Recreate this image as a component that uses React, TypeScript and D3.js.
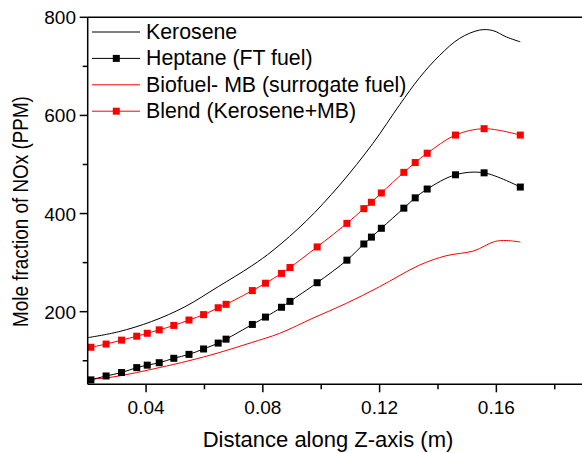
import React from "react";
import * as d3 from "d3";

const keroseneX = [0.02, 0.0305, 0.0419, 0.0533, 0.0647, 0.0761, 0.0835, 0.0949, 0.1063, 0.1177, 0.1269, 0.1337, 0.1405, 0.1474, 0.1543, 0.1588, 0.1634, 0.1682];
const keroseneY = [147, 159, 180, 210, 251, 293, 325, 385, 458, 543, 622, 677, 722, 757, 774, 773, 760, 750];

const markerX = [0.0211, 0.0263, 0.0316, 0.0368, 0.0404, 0.0445, 0.0495, 0.0547, 0.0597, 0.0647, 0.0674, 0.0764, 0.0809, 0.0864, 0.0893, 0.0986, 0.1088, 0.1146, 0.1172, 0.1206, 0.1283, 0.1322, 0.1363, 0.146, 0.1558, 0.1682];
const heptaneY = [61, 69, 76, 86, 91, 96, 105, 113, 124, 136, 144, 174, 189, 209, 221, 259, 305, 338, 352, 370, 411, 432, 450, 479, 483, 454];
const blendY = [127.5, 134, 142, 150, 156, 163, 172, 183, 194, 208, 215, 243, 258, 278, 290, 332, 380, 410, 423, 442, 484, 504, 523, 560, 573, 560];

const biofuelX = [0.02, 0.0263, 0.0316, 0.0368, 0.0445, 0.0547, 0.0647, 0.0761, 0.0858, 0.0972, 0.1086, 0.12, 0.1337, 0.1428, 0.1523, 0.1594, 0.1634, 0.1682];
const biofuelY = [62, 65, 70, 76, 86, 100, 116, 137, 156, 187, 217, 251, 295, 314, 324, 343, 345, 342];

const xMajorTicks = [0.04, 0.08, 0.12, 0.16];
const xMinorTicks = [0.06, 0.1, 0.14, 0.18];
const yMajorTicks = [200, 400, 600, 800];
const yMinorTicks = [100, 300, 500, 700];

const legendLabels = ["Kerosene", "Heptane (FT fuel)", "Biofuel- MB (surrogate fuel)", "Blend (Kerosene+MB)"];
const legendColors = ["#000", "#000", "#ff0000", "#ff0000"];
const legendMarkers = [false, true, false, true];

const FONT = "'Liberation Sans', Arial, sans-serif";

export default function App() {
  const left = 87.7, right = 582, top = 17.3, bottom = 384.3;
  const x = d3.scaleLinear().domain([0.02, 0.0202 + (right - left) / 2922.5]).range([left, right]);
  const y = d3.scaleLinear().domain([52, 800]).range([bottom, top]);
  const line = d3.line<[number, number]>()
    .x((d) => x(d[0]))
    .y((d) => y(d[1]))
    .curve(d3.curveCatmullRom.alpha(0.5));

  const zip = (xs: number[], ys: number[]) => xs.map((v, i) => [v, ys[i]] as [number, number]);
  const kerosene = zip(keroseneX, keroseneY);
  const heptane = zip(markerX, heptaneY);
  const blend = zip(markerX, blendY);
  const biofuel = zip(biofuelX, biofuelY);
  const ms = 7;

  return (
    <svg width={582} height={453} style={{ position: "absolute", left: 0, top: 0, background: "#fff" }} fontFamily={FONT}>
      <rect x={0} y={0} width={582} height={453} fill="#fff" />
      <path d={line(kerosene) || ""} fill="none" stroke="#000" strokeWidth={1} />
      <path d={line(biofuel) || ""} fill="none" stroke="#ff0000" strokeWidth={1} />
      <path d={line(blend) || ""} fill="none" stroke="#ff0000" strokeWidth={1} />
      <path d={line(heptane) || ""} fill="none" stroke="#000" strokeWidth={1} />
      {blend.map((d, i) => (
        <rect key={"b" + i} x={x(d[0]) - ms / 2} y={y(d[1]) - ms / 2} width={ms} height={ms} fill="#ff0000" />
      ))}
      {heptane.map((d, i) => (
        <rect key={"h" + i} x={x(d[0]) - ms / 2} y={y(d[1]) - ms / 2} width={ms} height={ms} fill="#000" />
      ))}
      <line x1={left} x2={582} y1={top} y2={top} stroke="#000" strokeWidth={1.5} />
      <line x1={left} x2={582} y1={bottom} y2={bottom} stroke="#000" strokeWidth={1.5} />
      <line x1={left} x2={left} y1={top} y2={bottom} stroke="#000" strokeWidth={1.5} />
      {xMajorTicks.map((t) => (
        <g key={"xm" + t}>
          <line x1={x(t)} x2={x(t)} y1={bottom} y2={bottom + 8} stroke="#000" strokeWidth={1.5} />
          <text x={x(t)} y={414} textAnchor="middle" fontSize={19}>{t.toFixed(2)}</text>
        </g>
      ))}
      {xMinorTicks.map((t) => (
        <line key={"xn" + t} x1={x(t)} x2={x(t)} y1={bottom} y2={bottom + 5} stroke="#000" strokeWidth={1.5} />
      ))}
      {yMajorTicks.map((t) => (
        <g key={"ym" + t}>
          <line x1={left - 8} x2={left} y1={y(t)} y2={y(t)} stroke="#000" strokeWidth={1.5} />
          <text x={76} y={y(t) + 7} textAnchor="end" fontSize={19}>{t}</text>
        </g>
      ))}
      {yMinorTicks.map((t) => (
        <line key={"yn" + t} x1={left - 5} x2={left} y1={y(t)} y2={y(t)} stroke="#000" strokeWidth={1.5} />
      ))}
      <text x={328} y={447} textAnchor="middle" fontSize={22}>Distance along Z-axis (m)</text>
      <text transform="translate(28,211.5) rotate(-90) scale(0.9,1.05)" textAnchor="middle" fontSize={21}>Mole fraction of NOx (PPM)</text>
      {legendLabels.map((lab, i) => {
        const base = 39 + i * 26.4;
        const ly = base - 7;
        return (
          <g key={"lg" + i}>
            <line x1={92} x2={140} y1={ly} y2={ly} stroke={legendColors[i]} strokeWidth={1} />
            {legendMarkers[i] && (
              <rect x={116.3 - ms / 2} y={ly - ms / 2} width={ms} height={ms} fill={legendColors[i]} />
            )}
            <text x={146} y={base} fontSize={21.3}>{lab}</text>
          </g>
        );
      })}
    </svg>
  );
}
